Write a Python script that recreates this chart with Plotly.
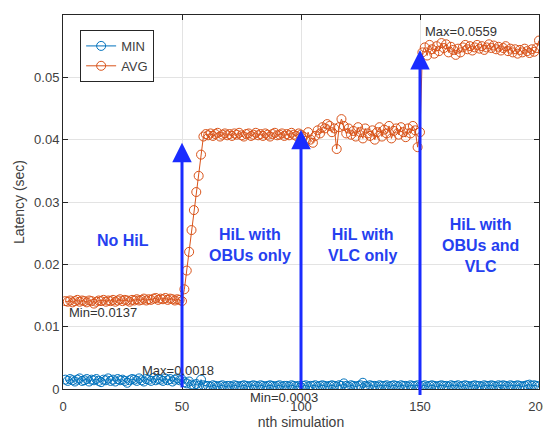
import plotly.graph_objects as go

sim = list(range(1, 201))

min_latency = [
    0.0015,0.0013,0.0016,0.0014,0.0012,0.0015,0.0017,0.0013,0.0014,0.0016,
    0.0012,0.0015,0.0014,0.0016,0.0013,0.0011,0.0015,0.0014,0.0017,0.0013,
    0.0015,0.0012,0.0016,0.0014,0.0015,0.0013,0.0010,0.0014,0.0016,0.0015,
    0.0013,0.0017,0.0014,0.0012,0.0016,0.0015,0.0013,0.0018,0.0014,0.0016,
    0.0015,0.0013,0.0017,0.0014,0.0016,0.0012,0.0015,0.0017,0.0014,0.0015,
    0.0011,0.0009,0.0012,0.0007,0.0006,0.0008,0.0005,0.0015,0.0006,0.0005,
    0.0005,0.0004,0.0006,0.0005,0.0004,0.0005,0.0006,0.0004,0.0005,0.0005,
    0.0004,0.0006,0.0005,0.0004,0.0005,0.0006,0.0005,0.0004,0.0005,0.0006,
    0.0005,0.0004,0.0006,0.0005,0.0004,0.0005,0.0006,0.0005,0.0004,0.0005,
    0.0006,0.0004,0.0005,0.0005,0.0004,0.0006,0.0005,0.0004,0.0005,0.0003,
    0.0005,0.0006,0.0004,0.0005,0.0005,0.0006,0.0004,0.0005,0.0006,0.0005,
    0.0004,0.0005,0.0006,0.0005,0.0004,0.0006,0.0005,0.0009,0.0005,0.0004,
    0.0006,0.0005,0.0004,0.0005,0.0006,0.0010,0.0005,0.0004,0.0006,0.0005,
    0.0005,0.0004,0.0006,0.0005,0.0005,0.0006,0.0004,0.0005,0.0006,0.0005,
    0.0004,0.0006,0.0005,0.0005,0.0004,0.0006,0.0005,0.0005,0.0006,0.0004,
    0.0005,0.0006,0.0004,0.0005,0.0006,0.0005,0.0004,0.0005,0.0006,0.0005,
    0.0005,0.0004,0.0006,0.0005,0.0005,0.0006,0.0004,0.0005,0.0006,0.0005,
    0.0004,0.0005,0.0006,0.0005,0.0005,0.0004,0.0006,0.0005,0.0005,0.0006,
    0.0005,0.0004,0.0006,0.0005,0.0006,0.0005,0.0004,0.0006,0.0005,0.0005,
    0.0006,0.0005,0.0004,0.0005,0.0006,0.0007,0.0005,0.0006,0.0005,0.0004,
]

avg_latency = [
    0.0141,0.0140,0.0142,0.0139,0.0141,0.0143,0.0140,0.0142,0.0141,0.0139,
    0.0142,0.0141,0.0137,0.0140,0.0142,0.0141,0.0143,0.0140,0.0142,0.0141,
    0.0143,0.0140,0.0142,0.0144,0.0141,0.0143,0.0142,0.0140,0.0143,0.0142,
    0.0144,0.0142,0.0143,0.0145,0.0142,0.0144,0.0143,0.0145,0.0146,0.0143,
    0.0145,0.0144,0.0146,0.0143,0.0145,0.0144,0.0142,0.0144,0.0143,0.0141,
    0.0160,0.0190,0.0220,0.0255,0.0287,0.0316,0.0342,0.0376,0.0405,0.0409,
    0.0407,0.0410,0.0406,0.0409,0.0411,0.0405,0.0408,0.0410,0.0407,0.0409,
    0.0406,0.0410,0.0408,0.0411,0.0407,0.0405,0.0409,0.0410,0.0406,0.0408,
    0.0411,0.0407,0.0409,0.0406,0.0410,0.0408,0.0405,0.0409,0.0411,0.0407,
    0.0408,0.0410,0.0406,0.0409,0.0407,0.0411,0.0408,0.0406,0.0410,0.0408,
    0.0405,0.0398,0.0412,0.0400,0.0395,0.0406,0.0415,0.0410,0.0420,0.0418,
    0.0425,0.0422,0.0412,0.0418,0.0385,0.0420,0.0433,0.0422,0.0410,0.0418,
    0.0408,0.0414,0.0405,0.0420,0.0412,0.0402,0.0418,0.0410,0.0406,0.0415,
    0.0400,0.0412,0.0420,0.0405,0.0416,0.0410,0.0422,0.0402,0.0414,0.0418,
    0.0408,0.0420,0.0412,0.0404,0.0418,0.0410,0.0422,0.0415,0.0388,0.0412,
    0.0540,0.0548,0.0535,0.0552,0.0545,0.0538,0.0550,0.0542,0.0555,0.0547,
    0.0553,0.0540,0.0549,0.0544,0.0536,0.0546,0.0540,0.0548,0.0552,0.0545,
    0.0550,0.0543,0.0548,0.0552,0.0546,0.0550,0.0544,0.0548,0.0553,0.0547,
    0.0551,0.0545,0.0549,0.0543,0.0547,0.0550,0.0542,0.0546,0.0540,0.0545,
    0.0538,0.0544,0.0540,0.0546,0.0542,0.0539,0.0545,0.0541,0.0547,0.0559,
]

# phase arrows (x position, tip, tail)
arrow_x = [50, 100, 150]
arrow_tip = [0.0395, 0.0416, 0.0544]
arrow_tail = [0.0, -0.0002, -0.0012]

phase_labels = ["No HiL", "HiL with<br>OBUs only", "HiL with<br>VLC only", "HiL with<br>OBUs and<br>VLC"]
phase_x = [25, 78.5, 126, 175.5]
phase_y = [0.0239, 0.0231, 0.0231, 0.0231]

# data-tip labels (paper y so labels below the axis are still drawn)
tip_texts = ["Min=0.0137", "Max=0.0018", "Min=0.0003", "Max=0.0559"]
tip_x = [1.5, 32.3, 77.6, 151.2]
tip_y = [0.0122, 0.0030, -0.0013, 0.0573]

BLUE = "#0072BD"
ORANGE = "#D95319"
AXC = "#262626"
TXT = "#404040"
FONT = "Liberation Sans, Arial, sans-serif"
YMAX = 0.06

fig = go.Figure()
fig.add_trace(go.Scatter(
    x=sim, y=min_latency, name="MIN", mode="lines+markers",
    line=dict(color=BLUE, width=1),
    marker=dict(symbol="circle-open", size=9, color=BLUE, line=dict(width=1)),
))
fig.add_trace(go.Scatter(
    x=sim, y=avg_latency, name="AVG", mode="lines+markers",
    line=dict(color=ORANGE, width=1),
    marker=dict(symbol="circle-open", size=9, color=ORANGE, line=dict(width=1)),
))

annotations = []
for ax_, tip, tail in zip(arrow_x, arrow_tip, arrow_tail):
    annotations.append(dict(
        x=ax_, y=tip, ax=ax_, ay=tail, xref="x", yref="y", axref="x", ayref="y",
        text="", showarrow=True, arrowhead=2, arrowsize=1.3, arrowwidth=3,
        arrowcolor="#1a2cff", standoff=0, startstandoff=0,
    ))
for t, x_, y_ in zip(phase_labels, phase_x, phase_y):
    annotations.append(dict(
        x=x_, y=y_, xref="x", yref="y", text="<b>" + t + "</b>", showarrow=False,
        font=dict(family=FONT, size=16, color="#2540f0"), align="center",
    ))
for t, x_, y_ in zip(tip_texts, tip_x, tip_y):
    annotations.append(dict(
        x=x_, y=y_ / YMAX, xref="x", yref="paper", text=t, showarrow=False,
        xanchor="left", yanchor="middle",
        font=dict(family=FONT, size=13, color="#333333"),
    ))

axis_common = dict(
    showline=True, linecolor=AXC, linewidth=1, mirror="ticks",
    ticks="inside", ticklen=5, tickcolor=AXC, automargin=False,
    showgrid=True, gridcolor="#e3e3e3", gridwidth=1, zeroline=False,
    tickfont=dict(family=FONT, size=13, color=TXT),
)

fig.update_layout(
    width=543, height=424,
    margin=dict(l=55, r=12, t=7, b=43),
    paper_bgcolor="white", plot_bgcolor="white",
    font=dict(family=FONT, color=TXT),
    showlegend=True,
    legend=dict(
        x=0.036, y=0.96, xanchor="left", yanchor="top",
        bgcolor="white", bordercolor=AXC, borderwidth=1,
        font=dict(family=FONT, size=13, color=TXT),
        tracegroupgap=0, itemwidth=30,
    ),
    xaxis=dict(range=[0, 200], tickvals=[0, 50, 100, 150, 200],
               ticklabelstandoff=5,
               title=dict(text="nth simulation", font=dict(family=FONT, size=14, color=TXT), standoff=3),
               **axis_common),
    yaxis=dict(range=[0, YMAX], tickvals=[0, 0.01, 0.02, 0.03, 0.04, 0.05, 0.06],
               ticktext=["0", "0.01", "0.02", "0.03", "0.04", "0.05", "0.06"],
               title=dict(text="Latency (sec)", font=dict(family=FONT, size=14, color=TXT), standoff=6),
               **axis_common),
    annotations=annotations,
)

fig.write_html("out.html")
